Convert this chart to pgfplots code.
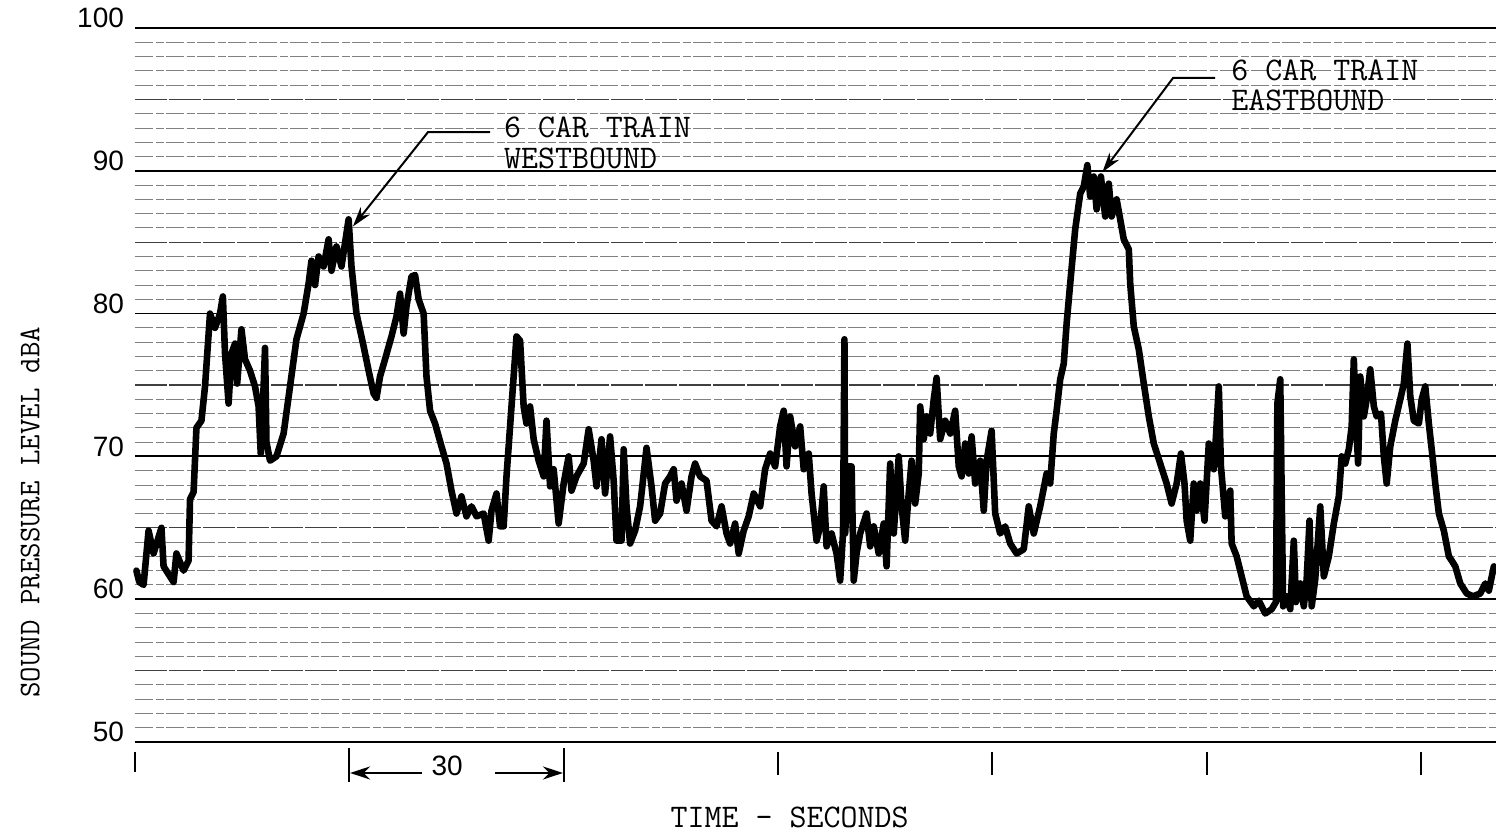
\documentclass[border=0pt]{standalone}
\usepackage{fontspec}
\usepackage{pgfplots}
\pgfplotsset{compat=1.18}
\usetikzlibrary{arrows.meta}
\newfontfamily\tickfont{Liberation Sans}
\newcommand{\tw}{\ttfamily\fontsize{16.5}{16.5}\selectfont}
\begin{document}
\begin{tikzpicture}
\useasboundingbox (0,0) rectangle (748pt,417pt);
\begin{axis}[
  at={(67.5pt,46pt)}, anchor=south west,
  scale only axis, width=680.5pt, height=357pt,
  xmin=0, xmax=190.5, ymin=50, ymax=100,
  axis line style={draw=none},
  xtick=\empty,
  ytick={50,60,...,100},
  minor ytick={51,52,53,54,56,57,58,59,61,62,63,64,66,67,68,69,71,72,73,74,76,77,78,79,81,82,83,84,86,87,88,89,91,92,93,94,96,97,98,99},
  extra y ticks={55,65,75,85,95},
  extra y tick labels={},
  extra y tick style={grid=major, major grid style={black!75, line width=0.55pt, dash pattern=on 16pt off 1pt}},
  ymajorgrids, yminorgrids,
  major grid style={black, line width=0.9pt},
  minor grid style={black!50, line width=0.45pt, dash pattern=on 9pt off 1.5pt on 4pt off 1pt},
  tick style={draw=none},
  /pgf/number format/assume math mode=true,
  yticklabel style={font=\tickfont\fontsize{14}{14}\selectfont, anchor=east, yshift=5pt, xshift=-2pt},
  clip=false,
  ylabel={SOUND PRESSURE LEVEL dBA},
  ylabel style={font=\ttfamily\fontsize{15}{15}\selectfont, at={(axis description cs:-0.077,0.322)}, anchor=center, rotate=0},
  xlabel={TIME - SECONDS},
  xlabel style={font=\tw, at={(axis description cs:0.481,-0.106)}, anchor=center},
]
\draw[line width=1.4pt] (axis cs:0,50) -- (axis cs:190.5,50);
\addplot[black, line width=3.3pt, line join=round, line cap=round] coordinates {
(0.2,62.0) (0.6,61.2) (1.2,61.0) (1.9,64.8) (2.6,63.2) (3.7,65.0) (4.0,62.3) (5.4,61.2) (5.8,63.2) (6.8,62.0)
(7.5,62.7) (7.7,67.0) (8.2,67.5) (8.6,72.0) (9.3,72.5) (9.8,74.9) (10.5,80.0) (11.2,79.0) (11.9,80.0) (12.3,81.2)
(12.6,77.2) (13.1,73.7) (13.5,77.2) (14.0,77.9) (14.3,75.1) (14.9,78.9) (15.4,76.8) (16.1,76.0) (16.8,74.9) (17.3,73.5)
(17.6,70.2) (17.9,73.5) (18.2,77.6) (18.4,71.0) (18.9,69.7) (19.8,70.0) (20.8,71.6) (21.7,74.9) (22.6,78.2) (23.6,80.0)
(24.3,82.1) (24.7,83.7) (25.2,82.0) (25.7,84.0) (26.4,83.3) (27.1,85.2) (27.5,83.0) (28.2,84.7) (28.9,83.3) (29.9,86.6)
(30.3,83.3) (31.0,80.0) (32.0,77.7) (32.7,76.0) (33.4,74.4) (33.8,74.1) (34.3,75.6) (35.0,76.8) (35.9,78.4) (36.6,79.8)
(37.1,81.4) (37.6,78.6) (38.0,80.5) (38.7,82.6) (39.2,82.7) (39.7,81.0) (40.4,80.0) (40.8,75.6) (41.3,73.2) (42.0,72.3)
(42.9,70.7) (43.6,69.5) (44.3,67.6) (45.0,66.0) (45.7,67.2) (46.4,65.8) (47.1,66.5) (47.8,65.8) (48.8,66.0) (49.5,64.1)
(49.9,66.2) (50.6,67.4) (51.1,65.1) (51.6,65.1) (52.0,68.6) (52.7,73.5) (53.4,78.4) (53.9,78.1) (54.4,73.5) (54.8,72.3)
(55.3,73.5) (55.8,71.2) (56.5,69.7) (57.2,68.6) (57.6,72.5) (58.1,67.9) (58.6,69.1) (59.3,65.3) (60.0,68.1) (60.7,70.0)
(61.1,67.6) (61.8,68.6) (62.8,69.5) (63.5,71.9) (64.2,69.7) (64.6,67.9) (65.3,71.2) (65.8,67.4) (66.5,71.4) (67.0,68.3)
(67.4,64.1) (68.1,64.1) (68.4,70.5) (68.8,66.5) (69.3,63.9) (70.0,64.8) (70.7,66.5) (71.6,70.6) (72.3,67.9) (72.8,65.5)
(73.5,66.0) (74.2,68.1) (74.9,68.6) (75.4,69.1) (75.8,66.9) (76.5,68.1) (77.2,66.2) (77.9,68.6) (78.4,69.5) (79.1,68.6)
(80.0,68.3) (80.7,65.5) (81.4,65.1) (82.1,66.5) (82.8,64.6) (83.3,63.9) (84.0,65.3) (84.5,63.2) (85.2,64.8) (85.9,65.8)
(86.6,67.4) (87.5,66.5) (88.2,69.1) (88.9,70.2) (89.6,69.3) (90.3,72.1) (90.8,73.2) (91.2,69.3) (91.7,72.8) (92.4,70.7)
(93.1,72.1) (93.6,69.1) (94.3,70.2) (94.7,67.4) (95.4,64.1) (95.9,65.1) (96.4,67.9) (96.8,63.7) (97.5,64.6) (98.2,63.2)
(98.7,61.3) (99.1,64.6) (99.3,78.2) (99.4,64.6) (99.9,69.3) (100.3,69.3) (100.6,61.3) (101.0,63.2) (101.5,64.6) (102.4,66.0)
(102.9,63.7) (103.4,65.1) (104.1,63.2) (104.8,65.3) (105.2,62.3) (105.7,69.5) (106.2,64.6) (106.9,70.0) (107.3,66.5) (107.8,64.1)
(108.3,67.4) (108.7,69.7) (109.2,66.7) (109.7,68.8) (109.9,73.5) (110.4,71.2) (110.8,72.8) (111.3,71.6) (111.8,74.0) (112.2,75.5)
(112.7,71.2) (113.4,72.5) (114.1,71.6) (114.8,73.2) (115.3,69.3) (115.7,68.6) (116.2,70.9) (116.7,68.8) (117.1,71.4) (117.6,68.1)
(118.3,69.7) (118.8,66.2) (119.2,69.7) (119.9,71.8) (120.4,66.0) (121.1,64.6) (121.8,65.1) (122.5,63.9) (123.4,63.2) (124.4,63.5)
(125.1,66.5) (125.8,64.6) (126.7,66.5) (127.6,68.8) (128.1,68.1) (128.6,71.6) (129.0,73.2) (129.5,75.4) (130.0,76.5) (130.4,79.3)
(130.9,82.1) (131.6,85.9) (132.3,88.4) (132.8,88.9) (133.3,90.4) (133.7,88.2) (134.2,89.6) (134.6,87.3) (135.2,89.6) (135.8,86.8)
(136.3,89.1) (136.7,86.8) (137.4,88.0) (137.9,86.6) (138.4,85.2) (139.1,84.5) (139.3,82.1) (139.8,79.1) (140.5,77.5) (141.2,75.1)
(141.9,72.8) (142.6,70.9) (143.5,69.5) (144.4,68.1) (145.1,66.7) (145.8,68.1) (146.4,70.2) (146.9,68.1) (147.2,65.5) (147.7,64.1)
(148.2,68.1) (148.6,66.2) (149.1,68.1) (149.7,65.5) (150.3,70.9) (151.0,69.1) (151.3,71.4) (151.7,74.9) (152.0,69.3) (152.6,65.8)
(153.3,67.6) (153.5,63.9) (154.2,63.0) (154.9,61.6) (155.6,60.2) (156.6,59.5) (157.3,59.9) (158.2,59.0) (159.1,59.3) (159.7,59.8)
(159.9,73.7) (160.3,75.4) (160.7,59.5) (161.2,60.2) (161.7,59.3) (162.2,64.1) (162.5,59.8) (163.1,61.1) (163.6,59.5) (164.0,61.4)
(164.4,65.5) (164.7,59.5) (165.2,61.4) (165.9,66.5) (166.4,61.6) (167.1,63.0) (167.8,65.3) (168.5,67.2) (168.9,70.0) (169.4,69.5)
(169.9,70.5) (170.3,72.1) (170.6,76.8) (170.9,72.5) (171.2,69.5) (171.5,75.6) (172.0,72.8) (172.4,74.0) (172.9,76.1) (173.4,73.5)
(173.8,72.8) (174.4,73.0) (174.8,70.0) (175.2,68.1) (175.7,70.7) (176.4,72.5) (177.1,74.0) (177.6,75.1) (178.1,77.9) (178.5,74.2)
(179.0,72.5) (179.7,72.3) (180.1,74.0) (180.6,74.9) (181.1,72.3) (181.5,70.5) (182.0,68.1) (182.5,66.0) (183.2,64.8) (183.9,63.0)
(184.3,62.7) (184.8,62.3) (185.5,61.1) (186.4,60.4) (187.3,60.2) (188.3,60.4) (189.0,61.1) (189.5,60.6) (190.2,62.3)
};
% time ticks
\draw[line width=1pt] (axis cs:0,49.3) -- (axis cs:0,47.9);
\draw[line width=1pt] (axis cs:30,49.6) -- (axis cs:30,47.2);
\draw[line width=1pt] (axis cs:60,49.6) -- (axis cs:60,47.2);
\draw[line width=1pt] (axis cs:90,49.3) -- (axis cs:90,47.7);
\draw[line width=1pt] (axis cs:120,49.3) -- (axis cs:120,47.7);
\draw[line width=1pt] (axis cs:150,49.3) -- (axis cs:150,47.7);
\draw[line width=1pt] (axis cs:180,49.3) -- (axis cs:180,47.7);
\draw[line width=1.2pt, -{Stealth[length=10pt,width=6.5pt]}] (axis cs:40.2,47.83) -- (axis cs:30.1,47.83);
\draw[line width=1.2pt, -{Stealth[length=10pt,width=6.5pt]}] (axis cs:50.4,47.83) -- (axis cs:59.9,47.83);
\node[font=\tickfont\fontsize{14}{14}\selectfont, inner sep=0] at (axis cs:43.7,48.35) {30};
% annotations
\draw[line width=1pt, -{Stealth[length=10pt,width=6pt]}] (axis cs:49.7,92.7) -- (axis cs:41.0,92.7) -- (axis cs:30.5,86.1);
\node[font=\tw, anchor=west, inner sep=0] at (axis cs:51.6,93.07) {6 CAR TRAIN};
\node[font=\tw, anchor=west, inner sep=0] at (axis cs:51.6,90.9) {WESTBOUND};
\draw[line width=1pt, -{Stealth[length=10pt,width=6pt]}] (axis cs:151.2,96.5) -- (axis cs:145.3,96.5) -- (axis cs:135.4,89.9);
\node[font=\tw, anchor=west, inner sep=0] at (axis cs:153.4,97.06) {6 CAR TRAIN};
\node[font=\tw, anchor=west, inner sep=0] at (axis cs:153.4,94.96) {EASTBOUND};
\end{axis}
\end{tikzpicture}
\end{document}
